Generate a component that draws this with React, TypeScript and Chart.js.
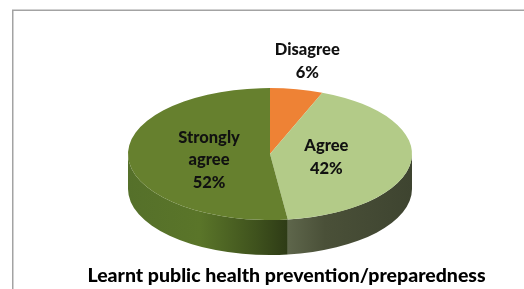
import React, { useEffect, useRef } from 'react';
import { Chart, registerables } from 'chart.js';

Chart.register(...registerables);

const categories = ['Disagree', 'Agree', 'Strongly agree'];
const values = [6, 42, 52];
const titleText = 'Learnt public health prevention/preparedness';

const topColors = ['#EE8235', '#B3CB88', '#66802E'];
const sideStops: [number, string][][] = [
  [[0, '#B8601F'], [0.5, '#C96A25'], [1, '#8F4A16']],
  [[0, '#5E664B'], [0.3, '#4A5038'], [1, '#3E4430']],
  [[0, '#55702A'], [0.45, '#5A7529'], [0.8, '#3F521D'], [1, '#2E3B16']],
];
const labelPlacement = [
  { r: 1.4, dx: 0, dy: -2 },
  { r: 0.4, dx: 0, dy: 0 },
  { r: 0.43, dx: 0, dy: 4 },
];
const DEPTH = 35;
const FONT = 'Lato, "Open Sans", sans-serif';

function wrap(ctx: CanvasRenderingContext2D, text: string, maxW: number): string[] {
  const words = text.split(' ');
  const lines: string[] = [];
  let cur = '';
  for (const w of words) {
    const t = cur ? cur + ' ' + w : w;
    if (cur && ctx.measureText(t).width > maxW) {
      lines.push(cur);
      cur = w;
    } else cur = t;
  }
  if (cur) lines.push(cur);
  return lines;
}

const pie3d = {
  id: 'pie3d',
  beforeDraw(chart: any) {
    const ctx = chart.ctx;
    ctx.save();
    ctx.strokeStyle = '#a3a3a3';
    ctx.lineWidth = 1.5;
    ctx.strokeRect(12.75, 10.25, 700, 500);
    ctx.restore();
  },
  beforeDatasetsDraw(chart: any) {
    const ctx: CanvasRenderingContext2D = chart.ctx;
    const arcs = chart.getDatasetMeta(0).data;
    const a0 = arcs[0];
    const cx = a0.x, cy = a0.y, ry = a0.outerRadius;
    const rx = chart.chartArea.width / 2;
    arcs.forEach((arc: any, i: number) => {
      const s = Math.max(arc.startAngle, 0);
      const e = Math.min(arc.endAngle, Math.PI);
      if (e <= s) return;
      const xr = cx + rx * Math.cos(s);
      const xl = cx + rx * Math.cos(e);
      const g = ctx.createLinearGradient(xl, 0, xr, 0);
      sideStops[i].forEach(([o, c]) => g.addColorStop(o, c));
      ctx.save();
      ctx.beginPath();
      ctx.ellipse(cx, cy, rx, ry, 0, s, e, false);
      ctx.ellipse(cx, cy + DEPTH, rx, ry, 0, e, s, true);
      ctx.closePath();
      ctx.fillStyle = g;
      ctx.fill();
      ctx.restore();
    });
    ctx.save();
    ctx.translate(cx, cy);
    ctx.scale(rx / ry, 1);
    ctx.translate(-cx, -cy);
  },
  afterDatasetsDraw(chart: any) {
    chart.ctx.restore();
  },
  afterDraw(chart: any) {
    const ctx: CanvasRenderingContext2D = chart.ctx;
    const arcs = chart.getDatasetMeta(0).data;
    const a0 = arcs[0];
    const cx = a0.x, cy = a0.y, ry = a0.outerRadius;
    const rx = chart.chartArea.width / 2;
    ctx.save();
    ctx.fillStyle = '#111';
    ctx.textAlign = 'center';
    ctx.textBaseline = 'middle';
    ctx.font = `900 16.5px ${FONT}`;
    const lh = 22.5;
    arcs.forEach((arc: any, i: number) => {
      const mid = (arc.startAngle + arc.endAngle) / 2;
      const p = labelPlacement[i];
      const x = cx + p.r * rx * Math.cos(mid) + p.dx;
      const y = cy + p.r * ry * Math.sin(mid) + p.dy;
      const total = values.reduce((a, b) => a + b, 0);
      const lines = [...wrap(ctx, categories[i], 80), `${Math.round((values[i] / total) * 100)}%`];
      const y0 = y - ((lines.length - 1) * lh) / 2;
      lines.forEach((l, k) => ctx.fillText(l, x, y0 + k * lh));
    });
    ctx.font = `900 19.5px ${FONT}`;
    ctx.fillStyle = '#000';
    ctx.fillText(titleText, 286.5, 276);
    ctx.restore();
  },
};

export default function App() {
  const ref = useRef<HTMLCanvasElement>(null);
  useEffect(() => {
    if (!ref.current) return;
    const chart = new Chart(ref.current, {
      type: 'pie',
      data: {
        labels: categories,
        datasets: [
          {
            data: values,
            backgroundColor: topColors,
            borderWidth: 0,
          },
        ],
      },
      options: {
        responsive: false,
        animation: false,
        events: [],
        layout: { padding: { left: 128, right: 112, top: 88, bottom: 69 } },
        plugins: {
          legend: { display: false },
          title: { display: false },
          tooltip: { enabled: false },
        },
      },
      plugins: [pie3d],
    });
    return () => chart.destroy();
  }, []);
  return (
    <div style={{ position: 'absolute', left: 0, top: 0, width: 524, height: 289, background: '#fff' }}>
      <canvas ref={ref} width={524} height={289} style={{ display: 'block' }} />
    </div>
  );
}
